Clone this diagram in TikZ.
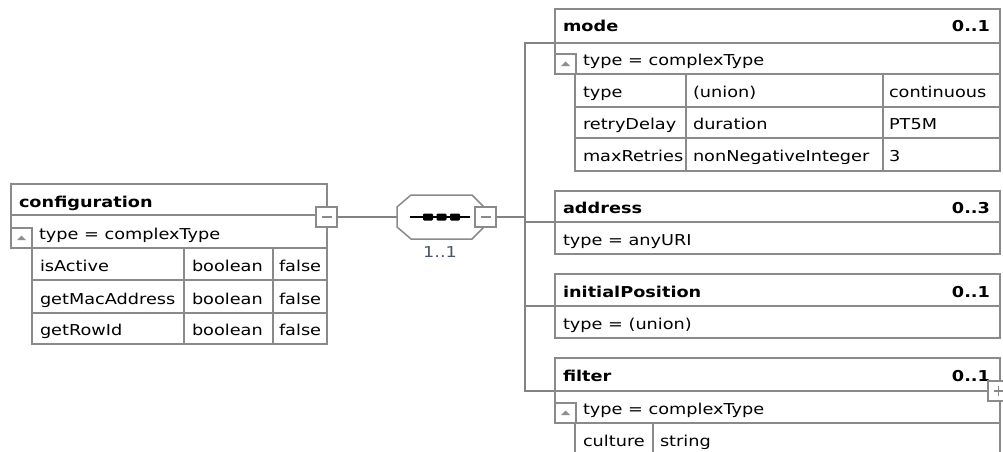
\documentclass[tikz,border=0pt]{standalone}
\usepackage{fontspec}
\newfontfamily\tfont{DejaVu Sans}[FakeStretch=1.18]
\definecolor{frame}{HTML}{8A8A8A}
\definecolor{wirec}{HTML}{838383}
\definecolor{icon}{HTML}{8E8E8E}
\definecolor{cardc}{HTML}{4A5468}
\newcommand{\fsz}{\fontsize{15}{17}\selectfont}
\tikzset{
  line/.style={draw=frame, line width=1.5pt},
  wire/.style={draw=wirec, line width=1.5pt},
  cell/.style={draw=frame, line width=1.5pt, fill=white, inner sep=0pt, outer sep=0pt, rectangle},
  txt/.style={anchor=base west, inner sep=0pt, outer sep=0pt, font=\tfont\fsz, text=black},
  hdrtxt/.style={txt, font=\tfont\bfseries\fsz},
  cardtxt/.style={anchor=base east, inner sep=0pt, outer sep=0pt, font=\tfont\bfseries\fsz, text=black},
  togglebox/.style={cell, minimum width=21pt, minimum height=20pt},
  minusbox/.style={togglebox, path picture={
      \draw[draw=frame, line width=1.3pt]
        ([xshift=-5pt]path picture bounding box.center) --
        ([xshift=5pt]path picture bounding box.center);}},
  plusbox/.style={togglebox, path picture={
      \draw[draw=frame, line width=1.3pt]
        ([xshift=-5pt]path picture bounding box.center) --
        ([xshift=5pt]path picture bounding box.center)
        ([yshift=-5pt]path picture bounding box.center) --
        ([yshift=5pt]path picture bounding box.center);}},
  expandbox/.style={togglebox, path picture={
      \fill[icon]
        ([xshift=-4.5pt,yshift=-2pt]path picture bounding box.center) --
        ([xshift=4.5pt,yshift=-2pt]path picture bounding box.center) --
        ([yshift=2.5pt]path picture bounding box.center) -- cycle;}},
}
\begin{document}
\begin{tikzpicture}[x=1pt,y=-1pt]
\useasboundingbox (0,0) rectangle (1003,452);
\clip (0,0) rectangle (1003,452);
\fill[white] (0,0) rectangle (1003,452);

% ---------- connectors ----------
\coordinate (bus) at (525,217);
\node[cell, draw=none, fill=none, minimum width=86pt, minimum height=44pt] (seq) at (440,217) {};
\node[togglebox] (cfgtoggle) at (326.5,217) {};
\node[togglebox] (seqtoggle) at (485.5,217) {};

\node[cell, anchor=north west, minimum width=445pt, minimum height=34pt] (mode) at (555,9) {};
\node[cell, anchor=north west, minimum width=445pt, minimum height=31pt] (address) at (555,191) {};
\node[cell, anchor=north west, minimum width=445pt, minimum height=32pt] (initialPosition) at (555,274) {};
\node[cell, anchor=north west, minimum width=445pt, minimum height=33pt] (filter) at (555,358) {};

\draw[wire] (cfgtoggle.east) -- (seq.west);
\draw[wire] (seqtoggle.east) -- (bus);
\draw[wire] (bus) |- (mode.south west);
\draw[wire] (bus) |- (address.south west);
\draw[wire] (bus) |- (initialPosition.south west);
\draw[wire] (bus) |- (filter.south west);

% ---------- configuration ----------
\node[cell, anchor=north west, minimum width=316pt, minimum height=31pt] (configuration) at (11,184) {};
\node[hdrtxt] (cfgname) at (19,207) {configuration};
\draw[line, fill=white] (11,215) rectangle (327,248);
\node[txt] (cfgtype) at (39,239) {type = complexType};
\node[expandbox, anchor=south west] (cfgexp) at (11,248) {};
\draw[line, fill=white] (32,248) rectangle (327,344);
\draw[line] (32,280) -- (327,280) (32,313) -- (327,313)
            (184,248) -- (184,344) (273,248) -- (273,344);
\node[txt] (c11) at (40,271) {isActive};
\node[txt] (c12) at (192,271) {boolean};
\node[txt] (c13) at (279,271) {false};
\node[txt] (c21) at (40,304) {getMacAddress};
\node[txt] (c22) at (192,304) {boolean};
\node[txt] (c23) at (279,304) {false};
\node[txt] (c31) at (40,335) {getRowId};
\node[txt] (c32) at (192,335) {boolean};
\node[txt] (c33) at (279,335) {false};
\node[minusbox] at (cfgtoggle) {};

% ---------- sequence compositor ----------
\draw[line, fill=white] (397,207) -- (411,195) -- (472,195) -- (483,206) -- (483,228)
      -- (472,239) -- (411,239) -- (397,227) -- cycle;
\draw[black, line width=1.4pt] (410,217) -- (470,217);
\fill[black, rounded corners=1.2pt] (423,213.5) rectangle (433,220.5);
\fill[black, rounded corners=1.2pt] (436.5,213.5) rectangle (446.5,220.5);
\fill[black, rounded corners=1.2pt] (450,213.5) rectangle (460,220.5);
\node[minusbox] at (seqtoggle) {};
\node[anchor=base, inner sep=0pt, font=\tfont\fsz, text=cardc] (seqcard) at (440,257) {1..1};

% ---------- mode ----------
\node[hdrtxt] (modename) at (563,32) {mode};
\node[cardtxt] (modecard) at (990,32) {0..1};
\draw[line, fill=white] (555,43) rectangle (1000,74);
\node[txt] (modetype) at (583,65) {type = complexType};
\node[expandbox, anchor=south west] (modeexp) at (555,74) {};
\draw[line, fill=white] (575,74) rectangle (1000,171);
\draw[line] (575,107) -- (1000,107) (575,138) -- (1000,138)
            (686,74) -- (686,171) (883,74) -- (883,171);
\node[txt] (m11) at (583,97) {type};
\node[txt] (m12) at (693,97) {(union)};
\node[txt] (m13) at (889,97) {continuous};
\node[txt] (m21) at (583,129) {retryDelay};
\node[txt] (m22) at (693,129) {duration};
\node[txt] (m23) at (889,129) {PT5M};
\node[txt] (m31) at (583,161) {maxRetries};
\node[txt] (m32) at (693,161) {nonNegativeInteger};
\node[txt] (m33) at (889,161) {3};

% ---------- address ----------
\node[hdrtxt] (addrname) at (563,213) {address};
\node[cardtxt] (addrcard) at (990,213) {0..3};
\draw[line, fill=white] (555,222) rectangle (1000,254);
\node[txt] (addrtype) at (563,245) {type = anyURI};

% ---------- initialPosition ----------
\node[hdrtxt] (iposname) at (563,297) {initialPosition};
\node[cardtxt] (iposcard) at (990,297) {0..1};
\draw[line, fill=white] (555,306) rectangle (1000,338);
\node[txt] (ipostype) at (563,329) {type = (union)};

% ---------- filter ----------
\node[hdrtxt] (filtname) at (563,381) {filter};
\node[cardtxt] (filtcard) at (990,381) {0..1};
\draw[line, fill=white] (555,391) rectangle (1000,423);
\node[txt] (filttype) at (583,414) {type = complexType};
\node[expandbox, anchor=south west] (filtexp) at (555,423) {};
\draw[line, fill=white] (575,423) rectangle (1000,480);
\draw[line] (653,423) -- (653,480);
\node[txt] (f11) at (583,446) {culture};
\node[txt] (f12) at (660,446) {string};
\node[plusbox] (filttoggle) at (998.5,391) {};
\end{tikzpicture}
\end{document}
